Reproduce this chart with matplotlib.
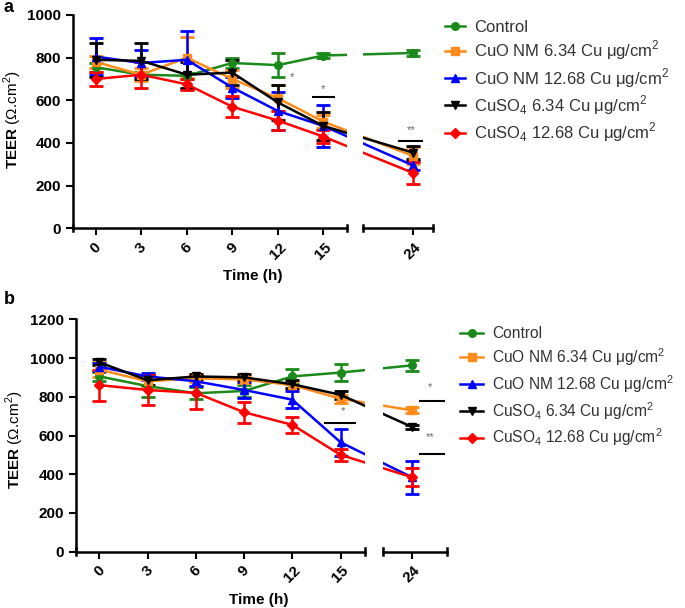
import numpy as np
import matplotlib
matplotlib.use("Agg")
from matplotlib import pyplot as plt

plt.rcParams['font.family'] = ['Liberation Sans', 'DejaVu Sans']
plt.rcParams['mathtext.fontset'] = 'custom'
plt.rcParams['mathtext.rm'] = 'Liberation Sans'
plt.rcParams['mathtext.bf'] = 'Liberation Sans:bold'

# time points (h)
time = [0, 3, 6, 9, 12, 15, 24]
tick_labels = ['0', '3', '6', '9', '12', '15', '24']

labels = ['Control',
          r'CuO NM 6.34 Cu $\mathrm{\mu}$g/cm$^2$',
          r'CuO NM 12.68 Cu $\mathrm{\mu}$g/cm$^2$',
          r'CuSO$_4$ 6.34 Cu $\mathrm{\mu}$g/cm$^2$',
          r'CuSO$_4$ 12.68 Cu $\mathrm{\mu}$g/cm$^2$']

# panel a
a_control = [755, 720, 715, 775, 765, 810, 822]
a_control_err = [20, 15, 15, 25, 55, 10, 15]
a_cuo_low = [780, 720, 800, 700, 610, 500, 340]
a_cuo_low_err = [30, 30, 95, 40, 60, 30, 40]
a_cuo_high = [805, 775, 790, 660, 550, 480, 295]
a_cuo_high_err = [85, 60, 135, 50, 90, 100, 20]
a_cuso4_low = [790, 785, 720, 730, 590, 480, 355]
a_cuso4_low_err = [80, 85, 60, 60, 80, 65, 30]
a_cuso4_high = [700, 720, 675, 570, 505, 430, 260]
a_cuso4_high_err = [35, 60, 25, 50, 45, 30, 50]

# panel b
b_control = [905, 855, 818, 830, 905, 925, 962]
b_control_err = [25, 55, 30, 30, 40, 45, 30]
b_cuo_low = [940, 880, 895, 890, 860, 790, 730]
b_cuo_low_err = [40, 30, 20, 20, 20, 20, 15]
b_cuo_high = [955, 905, 880, 835, 785, 565, 385]
b_cuo_high_err = [20, 20, 25, 40, 45, 70, 85]
b_cuso4_low = [978, 885, 905, 900, 865, 810, 645]
b_cuso4_low_err = [15, 25, 15, 15, 20, 20, 10]
b_cuso4_high = [860, 835, 820, 720, 655, 500, 385]
b_cuso4_high_err = [80, 75, 85, 55, 40, 30, 45]

colors = ['#1a8a1a', '#ff8c1a', '#0000ff', '#000000', '#ff0000']
markers = ['o', 's', '^', 'v', 'D']

W, H = 685, 608
fig = plt.figure(figsize=(6.85, 6.08), dpi=100)


def fx(px):
    return px / W


def fy(py):
    return 1 - py / H


def broken_pos(t, pos24):
    # GraphPad style axis break: 15 -> 24 squeezed
    t = np.asarray(t, dtype=float)
    return np.where(t <= 15, t, 15 + (t - 15) * (pos24 - 15) / 9.0)


def panel(series, errs, box1, box2, xlim1, xlim2, pos24, ylim, yticks,
          stars, lines, legend_at, hlen, ls, lfs):
    l1, r1, top, bot = box1
    l2, r2 = box2
    ax1 = fig.add_axes([fx(l1), fy(bot), fx(r1 - l1), (bot - top) / H])
    ax2 = fig.add_axes([fx(l2), fy(bot), fx(r2 - l2), (bot - top) / H])
    x = broken_pos(time, pos24)
    handles = []
    for ax in (ax1, ax2):
        for i in range(5):
            ln = ax.errorbar(x, series[i], yerr=errs[i], color=colors[i],
                             marker=markers[i], ms=5.5, lw=1.8, elinewidth=1.8,
                             capsize=5, capthick=2)
            if ax is ax1:
                handles.append(ln[0])
        ax.set_ylim(*ylim)
        ax.spines['top'].set_visible(False)
        ax.spines['right'].set_visible(False)
        ax.spines['bottom'].set_linewidth(1.8)
        ax.spines['left'].set_linewidth(1.8)
        ax.set_xticks(x)
        ax.set_xticklabels(tick_labels, rotation=45, ha='center',
                           fontsize=11, fontweight='bold')
        ax.tick_params(width=1.5, length=5)
        ax.patch.set_alpha(0)
        # end caps of the broken axis
        for e in (0, 1):
            ax.plot([e, e], [-0.015, 0.015], transform=ax.transAxes,
                    color='k', lw=1.8, clip_on=False)
    ax1.set_xlim(*xlim1)
    ax2.set_xlim(*xlim2)
    ax1.set_yticks(yticks)
    ax1.set_yticklabels([str(v) for v in yticks], fontsize=11, fontweight='bold')
    ax2.spines['left'].set_visible(False)
    ax2.set_yticks([])
    for ax, sx, sy, txt in stars:
        a = ax1 if ax == 1 else ax2
        a.text(sx, sy, txt, color='#666666', fontsize=8, ha='center', va='center')
    for ax, x0, x1, yy in lines:
        a = ax1 if ax == 1 else ax2
        a.plot([x0, x1], [yy, yy], color='k', lw=1.5)
    fig.legend(handles, labels, loc='upper left',
               bbox_to_anchor=(fx(legend_at[0]), fy(legend_at[1])),
               bbox_transform=fig.transFigure, frameon=False, fontsize=lfs,
               handlelength=hlen, handletextpad=0.55, labelspacing=ls,
               borderpad=0, borderaxespad=0, labelcolor='#333333')
    return ax1, ax2


stars_a = [(1, 12.9, 708, '*'), (1, 15.0, 655, '*'), (2, 20.8, 462, '**')]
lines_a = [(1, 14.3, 15.7, 617), (2, 20.0, 21.5, 409)]
stars_b = [(1, 15.15, 728, '*'), (2, 20.56, 849, '*'), (2, 20.56, 590, '**')]
lines_b = [(1, 14.05, 15.9, 663), (2, 19.94, 21.4, 778), (2, 19.94, 21.4, 504)]

panel([a_control, a_cuo_low, a_cuo_high, a_cuso4_low, a_cuso4_high],
      [a_control_err, a_cuo_low_err, a_cuo_high_err, a_cuso4_low_err, a_cuso4_high_err],
      (73, 347, 15, 228.3), (363, 433), (-1.5, 16.56), (17.62, 22.23), 20.91,
      (0, 1000), [0, 200, 400, 600, 800, 1000], stars_a, lines_a,
      (445, 20), 1.2, 0.22, 12)

panel([b_control, b_cuo_low, b_cuo_high, b_cuso4_low, b_cuso4_high],
      [b_control_err, b_cuo_low_err, b_cuo_high_err, b_cuso4_low_err, b_cuso4_high_err],
      (76, 365, 319.3, 551.7), (383, 447), (-1.45, 16.52), (17.64, 21.61), 19.42,
      (0, 1200), [0, 200, 400, 600, 800, 1000, 1200], stars_b, lines_b,
      (460, 326), 1.5, 0.33, 11.2)

ylab = r'$\mathbf{TEER}$ ($\Omega$.cm$^2$)'
fig.text(fx(13), fy(120), ylab, rotation=90, ha='center', va='center', fontsize=11)
fig.text(fx(15), fy(440), ylab, rotation=90, ha='center', va='center', fontsize=11)
fig.text(fx(253), fy(276), 'Time (h)', ha='center', va='center', fontsize=11, fontweight='bold')
fig.text(fx(259), fy(600), 'Time (h)', ha='center', va='center', fontsize=11, fontweight='bold')
fig.text(fx(4), fy(8), 'a', ha='left', va='center', fontsize=13, fontweight='bold')
fig.text(fx(4), fy(300), 'b', ha='left', va='center', fontsize=13, fontweight='bold')

fig.savefig('out.png', dpi=100)
